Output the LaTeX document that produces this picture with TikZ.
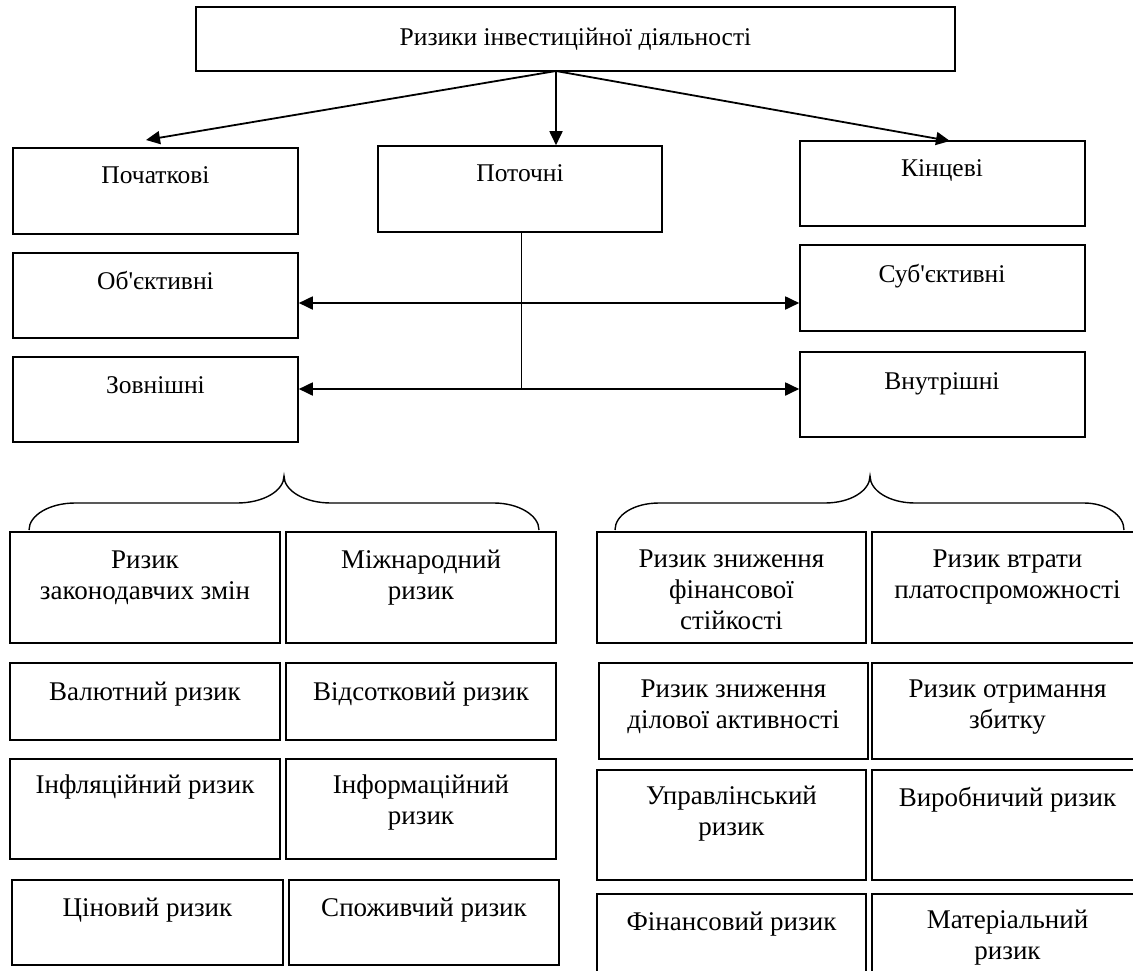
\documentclass[tikz,border=0pt]{standalone}
\usepackage{fontspec}
\setmainfont{Liberation Serif}
\usetikzlibrary{arrows.meta,fit}
\newcommand{\mlines}[1]{\begin{tabular}[t]{@{}c@{}}#1\end{tabular}}
\begin{document}
\begin{tikzpicture}[x=1pt,y=-1pt,
  bx/.style={draw, line width=1.6pt, inner sep=0pt},
  tx/.style={anchor=base, inner sep=0pt, font=\fontsize{25.5}{31}\selectfont},
  tb/.style={anchor=base, inner sep=0pt, font=\fontsize{27}{31}\selectfont},
  arr/.style={line width=1.8pt, -{Triangle[length=14pt,width=13pt]}},
  darr/.style={line width=1.8pt, {Triangle[length=14pt,width=13pt]}-{Triangle[length=14pt,width=13pt]}},
  thinline/.style={line width=1pt},
  bracel/.style={line width=1.4pt}
]
\useasboundingbox (0,0) rectangle (1133,970);
\clip (0,0) rectangle (1133,970);

% ---------- top part ----------
\node[bx, fit={(196,7) (955,71)}] (top) {};
\node[tx] (topT) at (575.5,45) {Ризики інвестиційної діяльності};

\node[bx, fit={(13,148) (298,234)}] (poch) {};
\node[tx] (pochT) at (155.5,183) {Початкові};
\node[bx, fit={(378,146) (662,232)}] (potoch) {};
\node[tx] (potochT) at (520,181) {Поточні};
\node[bx, fit={(800,141) (1085,226)}] (kinc) {};
\node[tx] (kincT) at (942,176) {Кінцеві};

\node[bx, fit={(13,253) (298,338)}] (obj) {};
\node[tx] (objT) at (155.5,289) {Об\textquotesingle єктивні};
\node[bx, fit={(800,245) (1085,331)}] (sub) {};
\node[tx] (subT) at (942,282) {Суб\textquotesingle єктивні};
\node[bx, fit={(13,357) (298,442)}] (zovn) {};
\node[tx] (zovnT) at (155.5,393) {Зовнішні};
\node[bx, fit={(800,352) (1085,437)}] (vnut) {};
\node[tx] (vnutT) at (942,389) {Внутрішні};

\coordinate (src) at (556,71);
\coordinate (pochIn) at (146,140);
\coordinate (kincIn) at (950,141);
\draw[arr] (src) -- (pochIn);
\draw[arr] (src) -- (src |- potoch.north);
\draw[arr] (src) -- (kincIn);

\coordinate (vtop) at (521,232);
\coordinate (a1) at (521,303);
\coordinate (a2) at (521,389);
\draw[thinline] (vtop) -- (a2);
\draw[darr] (obj.east |- a1) -- (sub.west |- a1);
\draw[darr] (zovn.east |- a2) -- (vnut.west |- a2);

% ---------- braces ----------
\draw[bracel] (29,530) .. controls (29,515) and (50,503) .. (75,503)
  -- (237,503) .. controls (263,503) and (284,491) .. (284,476)
  .. controls (284,491) and (305,503) .. (331,503)
  -- (494,503) .. controls (518,503) and (539,515) .. (539,530);
\draw[bracel] (615,530) .. controls (615,515) and (634,503) .. (659,503)
  -- (825,503) .. controls (850,503) and (870,491) .. (870,476)
  .. controls (870,491) and (890,503) .. (915,503)
  -- (1084,503) .. controls (1106,503) and (1124,515) .. (1124,530);

% ---------- left grid ----------
\node[bx, fit={(10,532) (280,643)}] (l11) {};
\node[tb] (l11T) at (145,568) {\mlines{Ризик\\законодавчих змін}};
\node[bx, fit={(286,532) (556,643)}] (l12) {};
\node[tb] (l12T) at (421,568) {\mlines{Міжнародний\\ризик}};

\node[bx, fit={(10,663) (280,740)}] (l21) {};
\node[tb] (l21T) at (145,700) {Валютний ризик};
\node[bx, fit={(286,663) (556,740)}] (l22) {};
\node[tb] (l22T) at (421,700) {Відсотковий ризик};

\node[bx, fit={(10,759) (280,859)}] (l31) {};
\node[tb] (l31T) at (145,793) {Інфляційний ризик};
\node[bx, fit={(286,759) (556,859)}] (l32) {};
\node[tb] (l32T) at (421,793) {\mlines{Інформаційний\\ризик}};

\node[bx, fit={(12,880) (283,965)}] (l41) {};
\node[tb] (l41T) at (147.5,916) {Ціновий ризик};
\node[bx, fit={(289,880) (559,965)}] (l42) {};
\node[tb] (l42T) at (424,916) {Споживчий ризик};

% ---------- right grid ----------
\node[bx, fit={(597,532) (866,643)}] (r11) {};
\node[tb] (r11T) at (731.5,567) {\mlines{Ризик зниження\\фінансової\\стійкості}};
\node[bx, fit={(872,532) (1143,643)}] (r12) {};
\node[tb] (r12T) at (1007.5,567) {\mlines{Ризик втрати\\платоспроможності}};

\node[bx, fit={(599,663) (868,759)}] (r21) {};
\node[tb] (r21T) at (733.5,697) {\mlines{Ризик зниження\\ділової активності}};
\node[bx, fit={(872,663) (1143,759)}] (r22) {};
\node[tb] (r22T) at (1007.5,697) {\mlines{Ризик отримання\\збитку}};

\node[bx, fit={(597,770) (866,880)}] (r31) {};
\node[tb] (r31T) at (731.5,804) {\mlines{Управлінський\\ризик}};
\node[bx, fit={(872,770) (1143,880)}] (r32) {};
\node[tb] (r32T) at (1007.5,806) {Виробничий ризик};

\node[bx, fit={(597,894) (866,990)}] (r41) {};
\node[tb] (r41T) at (731.5,930) {Фінансовий ризик};
\node[bx, fit={(872,894) (1143,990)}] (r42) {};
\node[tb] (r42T) at (1007.5,928) {\mlines{Матеріальний\\ризик}};
\end{tikzpicture}
\end{document}
